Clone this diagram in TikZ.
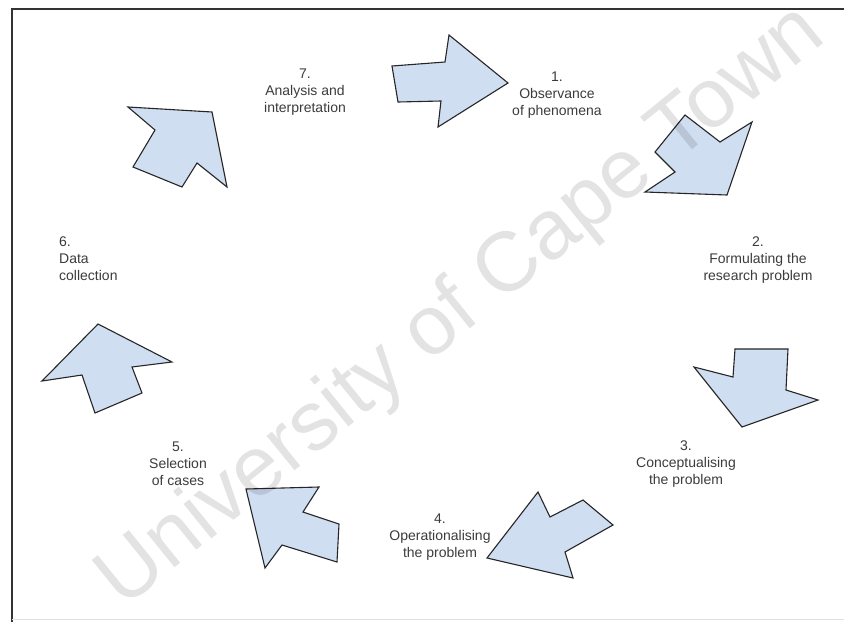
\documentclass[tikz,border=0pt]{standalone}
\usepackage{fontspec}
\setmainfont{Liberation Sans}
\definecolor{arrowblue}{RGB}{208,222,242}
\definecolor{lbltext}{RGB}{60,60,60}
\begin{document}
\begin{tikzpicture}[x=1pt,y=-1pt,
  arr/.style={draw=black!85, line width=1.1pt, fill=arrowblue, line join=miter},
  lbl/.style={align=center, font=\fontsize{14}{16.8}\selectfont, text=lbltext, inner sep=0pt, anchor=north},
  frameline/.style={draw=black!80, line width=1.6pt}]
\useasboundingbox (0,0) rectangle (844,622);
\fill[white] (0,0) rectangle (844,622);
% frame
\coordinate (f1) at (12,622);
\coordinate (f2) at (12,9);
\coordinate (f3) at (844,9);
\draw[frameline] (f1) -- (f2) -- (f3);
\coordinate (b1) at (12,619);
\coordinate (b2) at (844,619);
\draw[black!12, line width=0.8pt] (b1) -- (b2);
% labels
\node[lbl] (l7) at (305,69) {7.\\Analysis and\\interpretation};
\node[lbl] (l1) at (557,72) {1.\\Observance\\of phenomena};
\node[lbl] (l2) at (758,237) {2.\\Formulating the\\research problem};
\node[lbl] (l3) at (686,441) {3.\\Conceptualising\\the problem};
\node[lbl] (l4) at (440,514) {4.\\Operationalising\\the problem};
\node[lbl] (l5) at (178,442) {5.\\Selection\\of cases};
\node[lbl, align=left, anchor=north west] (l6) at (59,237) {6.\\Data\\collection};
% arrows
\draw[arr] (392,66) -- (445,62) -- (449,35) -- (508,83) -- (438,127) -- (441,101) -- (398,102) -- cycle;
\draw[arr] (685,115) -- (720,142) -- (752,122) -- (727,195) -- (645,192) -- (675,172) -- (655,152) -- cycle;
\draw[arr] (735,349) -- (788,349) -- (786,390) -- (818,400) -- (742,427) -- (694,367) -- (733,377) -- cycle;
\draw[arr] (538,492) -- (550,517) -- (583,500) -- (613,525) -- (565,552) -- (573,578) -- (487,558) -- cycle;
\draw[arr] (246,489) -- (319,487) -- (303,512) -- (339,524) -- (337,562) -- (282,545) -- (265,568) -- cycle;
\draw[arr] (98,324) -- (172,362) -- (132,367) -- (142,393) -- (95,413) -- (82,375) -- (42,381) -- cycle;
\draw[arr] (128,107) -- (212,112) -- (227,187) -- (197,163) -- (182,187) -- (133,167) -- (155,130) -- cycle;
% watermark
\node[rotate=39, text=black, opacity=0.11, font=\fontsize{84}{84}\selectfont, inner sep=0pt] (wm) at (462,308) {University of Cape Town};
\end{tikzpicture}
\end{document}
